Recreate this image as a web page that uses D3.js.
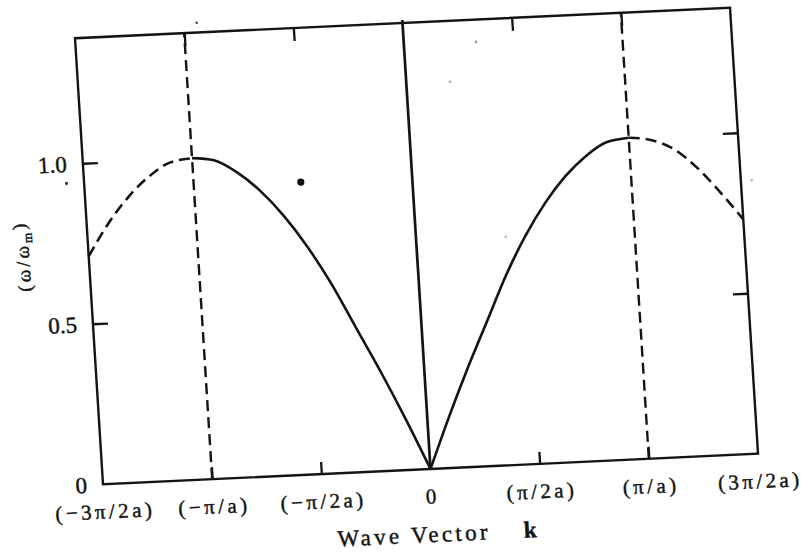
<!DOCTYPE html>
<html>
<head>
<meta charset="utf-8">
<script src="https://cdn.jsdelivr.net/npm/d3@7"></script>
<style>
  html, body { margin: 0; padding: 0; background: #fff; }
  svg { display: block; }
  text { font-family: "Liberation Serif", "Times New Roman", serif; fill: #151515; stroke: #151515; stroke-width: 0.45px; }
</style>
</head>
<body>
<svg id="chart" width="804" height="553"></svg>
<script>
// Wave vector k, in units of pi/a
const kTicks = [-1.5, -1, -0.5, 0, 0.5, 1, 1.5];
const kTickLabels = ["(\u22123\u03c0/2a)", "(\u2212\u03c0/a)", "(\u2212\u03c0/2a)", "0", "(\u03c0/2a)", "(\u03c0/a)", "(3\u03c0/2a)"];
const kInnerTicks = [-1, -0.5, 0.5, 1];

// Frequency axis, omega / omega_m
const wTicks = [0, 0.5, 1.0];
const wTickLabels = ["0", "0.5", "1.0"];
const wInnerTicks = [0.5, 1.0];

// First Brillouin zone (solid branches)
const solidLeftK  = [-1.0, -0.9, -0.8, -0.7, -0.6, -0.5, -0.4, -0.3, -0.2, -0.1, 0];
const solidLeftW  = [1.0, 0.99, 0.95, 0.89, 0.81, 0.71, 0.59, 0.45, 0.31, 0.16, 0];
const solidRightK = [0, 0.1, 0.2, 0.3, 0.4, 0.5, 0.6, 0.7, 0.8, 0.9, 1.0];
const solidRightW = [0, 0.16, 0.31, 0.45, 0.59, 0.71, 0.81, 0.89, 0.95, 0.99, 1.0];

// Beyond the zone boundary (dashed branches)
const dashLeftK  = [-1.5, -1.4, -1.3, -1.2, -1.1, -1.0];
const dashLeftW  = [0.71, 0.81, 0.89, 0.95, 0.99, 1.0];
const dashRightK = [1.0, 1.1, 1.2, 1.3, 1.4, 1.5];
const dashRightW = [1.0, 0.99, 0.96, 0.90, 0.82, 0.73];

// Zone boundaries k = -pi/a and k = +pi/a
const zoneBoundaries = [-1, 1];

// Ink specks on the printed page (k, omega, radius, shade)
const speckK = [-0.51, -1.58, -0.94, 0.33, 0.20, 0.41, 1.55];
const speckW = [0.91, 0.94, 1.42, 1.32, 1.20, 0.71, 0.85];
const speckR = [3.6, 1.6, 1.3, 1.4, 1.3, 1.3, 1.3];
const speckC = ["#111", "#333", "#444", "#999", "#aaa", "#bbb", "#bbb"];

const W = 655, H = 446;
const yMax = H / 321;

const svg = d3.select("#chart");
svg.append("rect").attr("width", 804).attr("height", 553).attr("fill", "#fff");

// The printed page sits slightly askew
const g = svg.append("g")
  .attr("transform", "matrix(1,-0.0466,0.0628,1,75,38.25)");

const x = d3.scaleLinear().domain([-1.5, 1.5]).range([0, W]);
const y = d3.scaleLinear().domain([0, yMax]).range([H, 0]);

const ink = "#141414";

// Frame
g.append("rect")
  .attr("x", x(-1.5)).attr("y", y(yMax))
  .attr("width", x(1.5) - x(-1.5)).attr("height", y(0) - y(yMax))
  .attr("fill", "none").attr("stroke", ink).attr("stroke-width", 2.4);

// Bottom axis: inward ticks and labels
const axBottom = g.append("g").attr("transform", `translate(0,${y(0)})`)
  .call(d3.axisBottom(x).tickValues(kTicks)
    .tickFormat((d, i) => kTickLabels[i]).tickSizeInner(-12).tickSizeOuter(0).tickPadding(0));
axBottom.select(".domain").remove();
axBottom.selectAll(".tick line")
  .attr("stroke", ink).attr("stroke-width", 2.3)
  .attr("display", d => kInnerTicks.includes(d) ? null : "none");
axBottom.selectAll(".tick text")
  .attr("y", 27).attr("dy", "0.35em")
  .attr("font-size", 21).attr("letter-spacing", 3.4)
  .attr("font-family", "Liberation Serif").attr("fill", ink);

// Top axis: ticks only
const axTop = g.append("g").attr("transform", `translate(0,${y(yMax)})`)
  .call(d3.axisTop(x).tickValues(kInnerTicks).tickFormat("").tickSizeInner(-13).tickSizeOuter(0));
axTop.select(".domain").remove();
axTop.selectAll(".tick line").attr("stroke", ink).attr("stroke-width", 2.3);

// Left axis: inward ticks and labels
const axLeft = g.append("g").attr("transform", `translate(${x(-1.5)},0)`)
  .call(d3.axisLeft(y).tickValues(wTicks)
    .tickFormat((d, i) => wTickLabels[i]).tickSizeInner(-15).tickSizeOuter(0).tickPadding(16));
axLeft.select(".domain").remove();
axLeft.selectAll(".tick line")
  .attr("stroke", ink).attr("stroke-width", 2.3)
  .attr("display", d => wInnerTicks.includes(d) ? null : "none");
axLeft.selectAll(".tick text")
  .attr("font-size", 23).attr("font-family", "Liberation Serif").attr("fill", ink);

// Right axis: ticks only
const axRight = g.append("g").attr("transform", `translate(${x(1.5)},0)`)
  .call(d3.axisRight(y).tickValues(wInnerTicks).tickFormat("").tickSizeInner(-15).tickSizeOuter(0));
axRight.select(".domain").remove();
axRight.selectAll(".tick line").attr("stroke", ink).attr("stroke-width", 2.3);

// k = 0 line
g.append("line")
  .attr("x1", x(0)).attr("x2", x(0))
  .attr("y1", y(0)).attr("y2", y(yMax) - 3)
  .attr("stroke", ink).attr("stroke-width", 2.7);

// Zone boundary lines
g.selectAll(".zone").data(zoneBoundaries).join("line")
  .attr("class", "zone")
  .attr("x1", d => x(d)).attr("x2", d => x(d))
  .attr("y1", y(0)).attr("y2", y(yMax))
  .attr("stroke", ink).attr("stroke-width", 2.4)
  .attr("stroke-dasharray", "11,6");

// Dispersion branches
const line = d3.line().x(d => x(d[0])).y(d => y(d[1])).curve(d3.curveMonotoneX);
const zip = (ks, ws) => ks.map((k, i) => [k, ws[i]]);

const branches = [
  { pts: zip(solidLeftK, solidLeftW), dash: null },
  { pts: zip(solidRightK, solidRightW), dash: null },
  { pts: zip(dashLeftK, dashLeftW), dash: "11,6" },
  { pts: zip(dashRightK, dashRightW), dash: "11,6" }
];
g.selectAll(".branch").data(branches).join("path")
  .attr("class", "branch")
  .attr("d", d => line(d.pts))
  .attr("fill", "none")
  .attr("stroke", ink).attr("stroke-width", 2.6)
  .attr("stroke-linecap", "butt")
  .attr("stroke-dasharray", d => d.dash);

// Axis titles
g.append("text")
  .attr("transform", `translate(-66,${y(0.72)}) rotate(-90)`)
  .attr("text-anchor", "middle").attr("dy", "0.35em")
  .attr("font-size", 19).attr("letter-spacing", 3)
  .call(t => {
    t.append("tspan").text("(\u03c9/\u03c9");
    t.append("tspan").attr("font-size", 13).attr("dy", "0.3em").text("m");
    t.append("tspan").attr("dy", "-0.3em").text(")");
  });

g.append("text")
  .attr("x", 307).attr("y", y(0) + 73)
  .attr("text-anchor", "middle")
  .attr("font-size", 23).attr("letter-spacing", 3.3)
  .text("Wave Vector");
g.append("text")
  .attr("x", 423).attr("y", y(0) + 73)
  .attr("text-anchor", "middle")
  .attr("font-size", 23).attr("font-weight", "bold")
  .text("k");

// Specks
g.selectAll(".speck").data(speckK).join("circle")
  .attr("class", "speck")
  .attr("cx", (d, i) => x(d)).attr("cy", (d, i) => y(speckW[i]))
  .attr("r", (d, i) => speckR[i]).attr("fill", (d, i) => speckC[i]);
</script>
</body>
</html>
